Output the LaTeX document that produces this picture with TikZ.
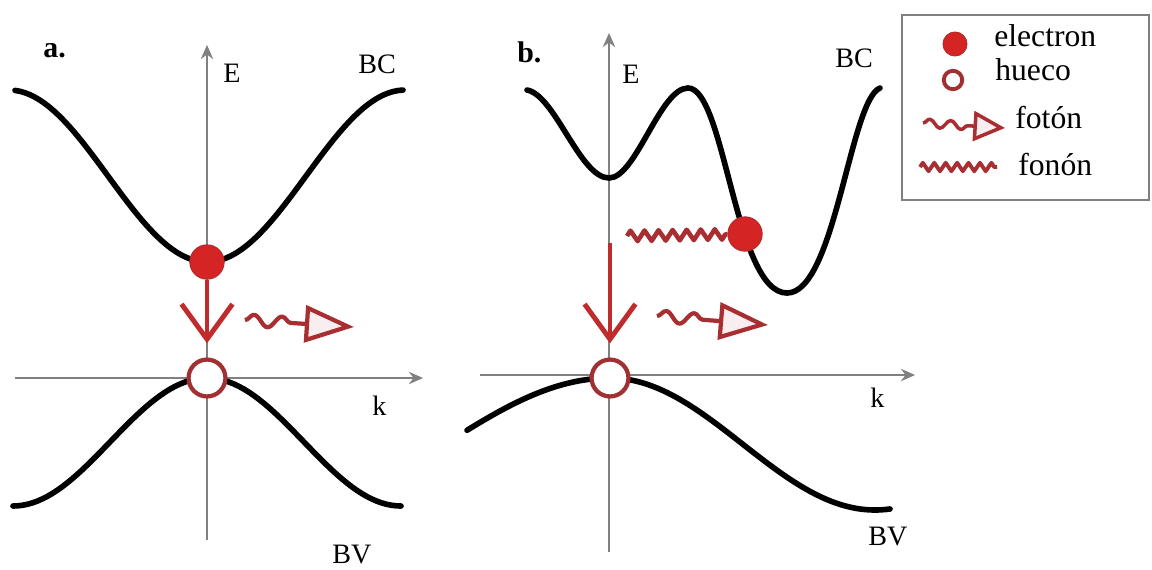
\documentclass[tikz,border=0pt]{standalone}
\usepackage{fontspec}
\setmainfont{Liberation Serif}
\usetikzlibrary{calc}
\usetikzlibrary{arrows.meta}
\usetikzlibrary{decorations.pathmorphing}

\definecolor{elred}{RGB}{212,36,36}
\definecolor{holered}{RGB}{160,48,50}
\definecolor{droprd}{RGB}{192,44,44}
\definecolor{waverd}{RGB}{168,46,50}
\definecolor{axisgray}{RGB}{128,128,128}

\begin{document}
\begin{tikzpicture}[x=0.02cm,y=-0.02cm,
  band/.style={line width=3.2pt,line cap=round},
  axis/.style={draw=axisgray,line width=1.3pt,-{Stealth[length=8pt,width=7pt]}},
  lbl/.style={font=\fontsize{16}{18}\selectfont,anchor=base west,inner sep=0pt},
  tag/.style={lbl,font=\fontsize{17}{19}\selectfont\bfseries},
  key/.style={font=\fontsize{18}{20}\selectfont,anchor=base west,inner sep=0pt},
  elec/.style={circle,fill=elred,draw=holered!60!elred,line width=0.6pt,minimum size=19.5pt,inner sep=0pt},
  hole/.style={circle,fill=white,draw=holered,line width=2.4pt,minimum size=21pt,inner sep=0pt},
  drop/.style={draw=droprd,line width=2.8pt,shorten >=8pt,-{Straight Barb[length=20pt,width=29pt]}},
  photon/.style={draw=waverd,line width=2.4pt,line join=round,decorate,
    decoration={snake,amplitude=3.3pt,segment length=16pt,post length=30pt},
    -{Triangle[open,fill=waverd!8,length=28pt,width=21pt]}},
  phonon/.style={draw=waverd,line width=2.6pt,line join=round,decorate,
    decoration={zigzag,amplitude=3pt,segment length=8pt}}]
\useasboundingbox (0,0) rectangle (1152,569);

% panel a
\coordinate (yA0) at (207,540);
\coordinate (yA1) at (207,45);
\coordinate (xA0) at (15,378);
\coordinate (xA1) at (423,378);
\draw[axis] (yA0) -- (yA1);
\draw[axis] (xA0) -- (xA1);
\draw[band] plot[domain=-192:196,samples=80] ({207+\x},{176+86*cos(\x/198*180)});
\draw[band] plot[domain=-194:194,samples=80] ({207+\x},{378+64*(1-cos(\x/194*180))});

\node[tag] (la) at (43,57) {a.};
\node[lbl] (Ea) at (223,82) {E};
\node[lbl] (BCa) at (358,73) {BC};
\node[lbl] (ka) at (372,415) {k};
\node[lbl] (BVa) at (332,563) {BV};

\node[elec] (eA) at (207,262) {};
\node[hole] (hA) at (207,378) {};
\draw[drop] (eA) -- (hA);
\coordinate (pA0) at (245,320);
\coordinate (pA1) at (354,327);
\draw[photon] (pA0) -- (pA1);

% panel b
\coordinate (yB0) at (609,552);
\coordinate (yB1) at (609,33);
\coordinate (xB0) at (480,375);
\coordinate (xB1) at (915,375);
\draw[axis] (yB0) -- (yB1);
\draw[axis] (xB0) -- (xB1);
\draw[band] (527,90) .. controls (555,95) and (580,178) .. (609,178)
  .. controls (636,178) and (660,88) .. (688,88)
  .. controls (725,88) and (735,293) .. (787,293)
  .. controls (835,293) and (850,100) .. (880,88);
\draw[band] plot[domain=-143:0,samples=40] ({610+\x},{378+66*(1-cos(\x/330*180))})
  -- plot[domain=0:280,samples=70] ({610+\x},{378+66*(1-cos(\x/265*180))});

\node[tag] (lb) at (517,62) {b.};
\node[lbl] (Eb) at (622,83) {E};
\node[lbl] (BCb) at (835,67) {BC};
\node[lbl] (kb) at (870,407) {k};
\node[lbl] (BVb) at (868,545) {BV};

\node[elec] (eB) at (745,234) {};
\node[hole] (hB) at (610,378) {};
\coordinate (dB) at (610,243);
\draw[drop] (dB) -- (hB);
\coordinate (fB0) at (627,236);
\draw[phonon] (fB0) -- (eB);
\coordinate (pB0) at (657,316);
\coordinate (pB1) at (768,325);
\draw[photon] (pB0) -- (pB1);

% legend
\draw[draw=axisgray,line width=1.2pt] (902,15) rectangle (1149,200);
\node[elec,minimum size=13.6pt] (kE) at (955,44) {};
\node[hole,minimum size=10.5pt,line width=2.2pt] (kH) at (953,80) {};
\node[key] (kEt) at (994,46) {electron};
\node[key] (kHt) at (995,80) {hueco};
\coordinate (kP0) at (923,123);
\coordinate (kP1) at (1005,128);
\draw[photon,line width=2pt,decoration={snake,amplitude=2.4pt,segment length=12pt,post length=20pt},
  -{Triangle[open,fill=waverd!8,length=18pt,width=17pt]}] (kP0) -- (kP1);
\node[key] (kPt) at (1015,128) {fotón};
\coordinate (kF0) at (920,167);
\coordinate (kF1) at (997,167);
\draw[phonon,line width=2.2pt,decoration={zigzag,amplitude=2.4pt,segment length=6.5pt}] (kF0) -- (kF1);
\node[key] (kFt) at (1018,175) {fonón};
\end{tikzpicture}
\end{document}
